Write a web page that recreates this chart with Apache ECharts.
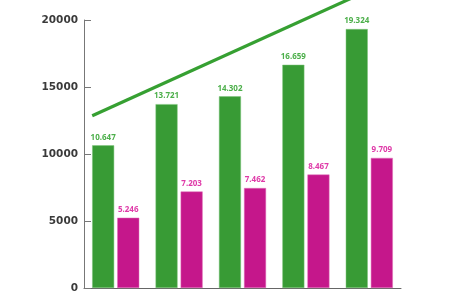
<!DOCTYPE html>
<html><head><meta charset="utf-8">
<script src="https://cdn.jsdelivr.net/npm/echarts@6/dist/echarts.min.js"></script>
<style>html,body{margin:0;padding:0;background:#fff}#c{width:460px;height:295px}</style>
</head><body><div id="c"></div>
<script>
const categories = ['1', '2', '3', '4', '5'];
const greenValues = [10647, 13721, 14302, 16659, 19324];
const magentaValues = [5246, 7203, 7462, 8467, 9709];
const yTicks = [0, 5000, 10000, 15000, 20000];
// decorative trend line: [category position, value]
const trendX = [0.13, 4.6];
const trendY = [12850, 22450];

const fmt = v => String(v).replace(/\B(?=(\d{3})+(?!\d))/g, '.');
const chart = echarts.init(document.getElementById('c'), null, {renderer: 'canvas'});
chart.setOption({
  animation: false,
  grid: {left: 84, right: 59, top: 20, bottom: 7, containLabel: false},
  xAxis: [{
    type: 'category', data: categories,
    axisLine: {lineStyle: {color: '#666', width: 1}},
    axisTick: {inside: true, length: 6, lineStyle: {color: '#666'}},
    axisLabel: {show: false}
  }, {
    type: 'value', min: 0, max: 5, show: false
  }],
  yAxis: {
    type: 'value', min: yTicks[0], max: yTicks[yTicks.length - 1], interval: 5000,
    axisLine: {show: true, lineStyle: {color: '#777', width: 1}},
    axisTick: {show: true, inside: true, length: 7, lineStyle: {color: '#777'}},
    splitLine: {show: false},
    axisLabel: {color: '#3a3a3a', fontFamily: 'DejaVu Sans', fontWeight: 'bold', fontSize: 10.5, margin: 6,
      formatter: v => String(v)}
  },
  series: [{
    type: 'bar', data: greenValues, barWidth: 22, barGap: '14%',
    itemStyle: {color: '#389b35', borderColor: '#7cc47a', borderWidth: 0.5},
    label: {show: true, position: 'top', distance: 4, color: '#4caf4a', fontFamily: 'Noto Sans', fontWeight: 'bold', fontSize: 8, formatter: p => fmt(p.value)}
  }, {
    type: 'bar', data: magentaValues, barWidth: 22,
    itemStyle: {color: '#c5178b', borderColor: '#e070b8', borderWidth: 0.5},
    label: {show: true, position: 'top', distance: 4, color: '#df3aa8', fontFamily: 'Noto Sans', fontWeight: 'bold', fontSize: 8, formatter: p => fmt(p.value)}
  }, {
    type: 'line', xAxisIndex: 1, clip: false, symbol: 'none',
    data: trendX.map((x, i) => [x, trendY[i]]),
    lineStyle: {color: '#36a032', width: 3.2}
  }]
});
</script></body></html>
